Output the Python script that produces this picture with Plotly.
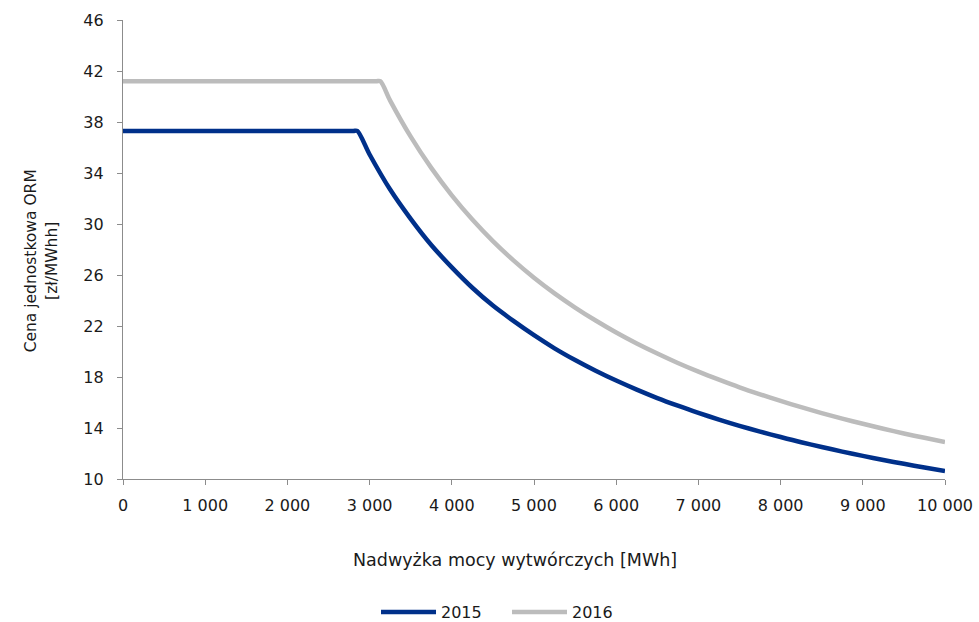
import plotly.graph_objects as go

# Nadwyżka mocy wytwórczych [MWh] and Cena jednostkowa ORM [zł/MWhh]
x_2015 = [0, 2800, 2850, 3000, 3250, 3500, 3750, 4000, 4250, 4500, 4750,
          5000, 5250, 5500, 5750, 6000, 6250, 6500, 6750, 7000, 7250,
          7500, 7750, 8000, 8250, 8500, 8750, 9000, 9250, 9500, 9750, 10000]
y_2015 = [37.3, 37.3, 37.3, 35.45, 32.7, 30.4, 28.35, 26.6, 25.0, 23.6, 22.4,
          21.28, 20.25, 19.33, 18.49, 17.72, 17.01, 16.35, 15.75, 15.19, 14.66,
          14.17, 13.72, 13.29, 12.88, 12.51, 12.15, 11.81, 11.49, 11.19, 10.9, 10.63]

x_2016 = [0, 3080, 3130, 3250, 3500, 3750, 4000, 4250, 4500, 4750,
          5000, 5250, 5500, 5750, 6000, 6250, 6500, 6750, 7000, 7250,
          7500, 7750, 8000, 8250, 8500, 8750, 9000, 9250, 9500, 9750, 10000]
y_2016 = [41.2, 41.2, 41.2, 39.68, 36.85, 34.4, 32.25, 30.35, 28.66, 27.15,
          25.79, 24.56, 23.45, 22.43, 21.49, 20.63, 19.84, 19.1, 18.42, 17.79,
          17.19, 16.64, 16.12, 15.63, 15.17, 14.74, 14.33, 13.94, 13.57, 13.23, 12.9]

series = [
    ("2015", x_2015, y_2015, "#00308a"),
    ("2016", x_2016, y_2016, "#bcbcbc"),
]

FONT = "DejaVu Sans"
AXIS_COLOR = "#8c8c8c"
TEXT_COLOR = "#1a1a1a"

fig = go.Figure()
for name, xs, ys, color in series:
    fig.add_trace(go.Scatter(
        x=xs, y=ys, name=name, mode="lines",
        line=dict(color=color, width=4.5, shape="spline", smoothing=0.8),
    ))

fig.update_layout(
    width=979, height=622,
    margin=dict(l=123, r=34, t=20, b=143, autoexpand=False),
    paper_bgcolor="white", plot_bgcolor="white",
    font=dict(family=FONT, size=16, color=TEXT_COLOR),
    separators=", ",
    showlegend=True,
    legend=dict(
        orientation="h", x=0.3078, xanchor="left",
        yref="container", y=10 / 622, yanchor="middle",
        font=dict(size=16), itemwidth=55, entrywidth=61,
        traceorder="normal",
    ),
    annotations=[
        dict(text="Nadwyżka mocy wytwórczych [MWh]", xref="paper", yref="paper",
             x=0.477, y=-0.176, xanchor="center", yanchor="middle",
             showarrow=False, font=dict(size=17.5)),
        dict(text="Cena jednostkowa ORM<br>[zł/MWhh]", xref="paper", yref="paper",
             x=-0.0993, y=0.475, xanchor="center", yanchor="middle",
             textangle=-90, showarrow=False, font=dict(size=15.5)),
    ],
)

fig.update_xaxes(
    range=[0, 10000], dtick=1000, tick0=0, tickformat=",d",
    showline=True, linecolor=AXIS_COLOR, linewidth=1.3,
    ticks="outside", ticklen=5, tickcolor=AXIS_COLOR, tickwidth=1.3,
    showgrid=False, zeroline=False, ticklabelstandoff=7, automargin=False,
)
fig.update_yaxes(
    range=[10, 46], dtick=4, tick0=10,
    showline=True, linecolor=AXIS_COLOR, linewidth=1.3,
    ticks="outside", ticklen=5, tickcolor=AXIS_COLOR, tickwidth=1.3,
    showgrid=False, zeroline=False, ticklabelstandoff=10, automargin=False,
)

fig.write_html("out.html")
